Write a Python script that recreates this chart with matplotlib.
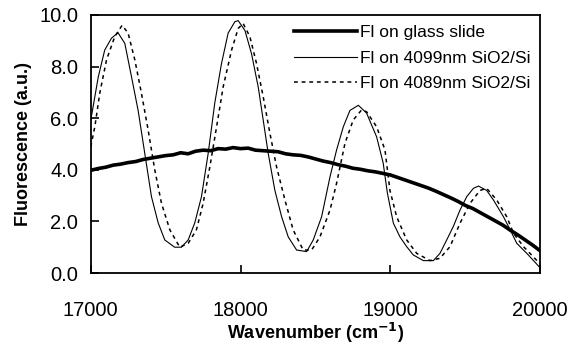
import numpy as np
import matplotlib.pyplot as plt

plt.rcParams['font.family'] = ['Liberation Sans', 'DejaVu Sans']

# Fl on glass slide (thick line)
glass_x = list(range(17000, 20001, 50))
glass_y = [3.98, 4.05, 4.10, 4.18, 4.22, 4.28, 4.32, 4.40, 4.45, 4.50,
           4.55, 4.58, 4.66, 4.62, 4.72, 4.76, 4.74, 4.82, 4.80, 4.86,
           4.82, 4.84, 4.76, 4.74, 4.72, 4.70, 4.62, 4.58, 4.56, 4.50,
           4.42, 4.34, 4.28, 4.20, 4.14, 4.06, 4.02, 3.96, 3.92, 3.86,
           3.80, 3.70, 3.60, 3.50, 3.40, 3.30, 3.18, 3.05, 2.92, 2.78,
           2.62, 2.50, 2.34, 2.18, 2.02, 1.86, 1.66, 1.48, 1.28, 1.08, 0.86]

# Fl on 4099nm SiO2/Si (thin solid)
s4099_x = [17000, 17050, 17093, 17138, 17182, 17227, 17272, 17316, 17360, 17405,
           17450, 17494, 17560, 17605, 17650, 17694, 17739, 17784, 17828, 17872,
           17917, 17962, 17984, 18029, 18073, 18118, 18151, 18184, 18229, 18274,
           18318, 18374, 18441, 18485, 18541, 18597, 18641, 18686, 18730, 18786,
           18841, 18908, 18952, 18980, 19020, 19064, 19109, 19153, 19220, 19287,
           19331, 19376, 19420, 19465, 19510, 19554, 19588, 19643, 19688, 19755,
           19800, 19844, 19911, 20000]
s4099_y = [5.93, 7.60, 8.64, 9.10, 9.31, 8.90, 7.60, 6.30, 4.65, 2.96,
           1.94, 1.28, 1.00, 1.00, 1.28, 1.94, 2.96, 4.65, 6.60, 8.10,
           9.30, 9.74, 9.78, 9.40, 8.50, 7.20, 5.93, 4.65, 3.20, 2.18,
           1.40, 0.89, 0.83, 1.28, 2.18, 3.73, 4.77, 5.67, 6.30, 6.50,
           6.20, 5.28, 4.26, 3.10, 1.93, 1.40, 1.02, 0.70, 0.48, 0.48,
           0.76, 1.28, 1.80, 2.44, 2.96, 3.28, 3.37, 3.20, 2.83, 2.18,
           1.67, 1.15, 0.76, 0.20]

# Fl on 4089nm SiO2/Si (dashed)
s4089_x = [17000, 17027, 17060, 17105, 17160, 17209, 17249, 17294, 17338, 17383,
           17427, 17472, 17528, 17594, 17650, 17705, 17750, 17795, 17840, 17884,
           17940, 17984, 18017, 18062, 18106, 18151, 18196, 18240, 18296, 18351,
           18418, 18474, 18530, 18597, 18641, 18697, 18752, 18808, 18841, 18908,
           18964, 18997, 19042, 19109, 19176, 19265, 19331, 19398, 19465, 19532,
           19598, 19643, 19710, 19777, 19822, 19889, 20000]
s4089_y = [4.90, 5.67, 6.97, 8.26, 9.16, 9.60, 9.30, 8.26, 6.97, 5.54,
           4.00, 2.70, 1.67, 1.00, 1.15, 1.67, 2.70, 4.12, 5.67, 7.22,
           8.64, 9.48, 9.67, 9.16, 8.13, 6.83, 5.41, 4.12, 2.83, 1.67,
           0.89, 0.89, 1.40, 2.44, 3.48, 5.03, 5.93, 6.32, 6.25, 5.67,
           4.77, 3.20, 2.18, 1.28, 0.76, 0.48, 0.57, 1.02, 1.93, 2.70,
           3.20, 3.28, 2.83, 2.18, 1.54, 1.02, 0.35]

fig = plt.figure(figsize=(5.71, 3.48), dpi=100)
ax = fig.add_axes([0.159, 0.2155, 0.787, 0.7415])

ax.plot(glass_x, glass_y, color='black', lw=2.6, label='Fl on glass slide')
ax.plot(s4099_x, s4099_y, color='black', lw=0.8, label='Fl on 4099nm SiO2/Si')
ax.plot(s4089_x, s4089_y, color='black', lw=1.1, ls=(0, (2.5, 2.5)),
        label='Fl on 4089nm SiO2/Si')

ax.set_xlim(17000, 20000)
ax.set_ylim(0, 10)
ax.set_xticks([17000, 18000, 19000, 20000])
ax.set_yticks(np.arange(0, 10.1, 2))
ax.set_yticklabels(['%.1f' % v for v in np.arange(0, 10.1, 2)])
ax.tick_params(direction='in', length=6, width=1.2, labelsize=14.5, pad=9)
ax.tick_params(axis='x', pad=20)
for sp in ax.spines.values():
    sp.set_linewidth(1.3)

ax.set_xlabel('Wavenumber (cm$^{\\mathbf{-1}}$)', fontsize=13, fontweight='bold', labelpad=1)
ax.set_ylabel('Fluorescence (a.u.)', fontsize=13, fontweight='bold', labelpad=5)

ax.legend(loc='upper right', frameon=False, fontsize=12.5, handlelength=3.6,
          handletextpad=0.2, labelspacing=0.62, borderaxespad=0.15,
          bbox_to_anchor=(1.0, 1.0))

fig.savefig('out.png', dpi=100)
